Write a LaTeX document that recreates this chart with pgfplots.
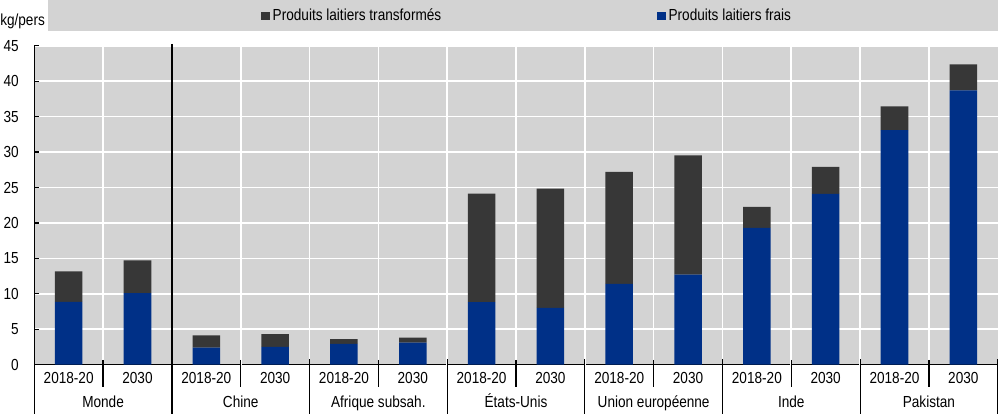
\documentclass[border=0pt]{standalone}
\usepackage{pgfplots}
\pgfplotsset{compat=1.18}
\usepackage{pgfplotstable}
\usepackage{fontspec}
\setmainfont{Liberation Sans}[FakeStretch=0.85]
\definecolor{oblue}{RGB}{0,48,135}
\definecolor{ogray}{RGB}{55,55,55}
\definecolor{obg}{RGB}{211,211,211}

\pgfplotstableread{
x fresh proc
0 8.85 4.30
1 10.1 4.60
2 2.40 1.70
3 2.50 1.80
4 2.90 0.70
5 3.10 0.70
6 8.80 15.35
7 8.00 16.85
8 11.4 15.80
9 12.7 16.85
10 19.3 2.95
11 24.1 3.80
12 33.1 3.35
13 38.7 3.70
}\datatable

\begin{document}
\fontsize{12pt}{14pt}\selectfont
\begin{tikzpicture}
\fill[obg] (10.3pt,250.1pt) rectangle (722.6pt,273.4pt);
\begin{axis}[
  scale only axis, width=722.6pt, height=239pt,
  at={(0pt,0pt)}, anchor=south west,
  xmin=-0.5, xmax=13.5, ymin=0, ymax=45,
  ybar stacked, bar width=0.4,
  axis background/.style={fill=obg},
  axis x line=bottom, axis y line=left,
  axis line style={-, black, line width=0.9pt},
  xtick={0,...,13},
  xticklabels={2018-20,2030,2018-20,2030,2018-20,2030,2018-20,2030,2018-20,2030,2018-20,2030,2018-20,2030},
  xtick style={draw=none},
  xticklabel style={anchor=base, inner sep=0pt, yshift=-14.1pt},
  ytick={0,5,...,45},
  ytick style={black, line width=0.9pt},
  tick align=inside, major tick length=3.5pt,
  yticklabel style={anchor=east, inner sep=0pt, xshift=-11.5pt},
  ymajorgrids, major grid style={white, line width=1.2pt},
  extra x ticks={0.5,2.5,3.5,4.5,5.5,6.5,7.5,8.5,9.5,10.5,11.5,12.5},
  extra x tick labels={},
  extra x tick style={grid=major, major grid style={white, line width=1.2pt}, xtick style={draw=none}},
  clip=false,
  /pgf/number format/assume math mode=true,
  reverse legend,
  legend columns=2,
  legend style={at={(0.512,1.0937)}, anchor=center, draw=none, fill=none,
    font=\fontsize{12pt}{14pt}\selectfont,
    /tikz/every even column/.append style={column sep=160pt}},
  legend image code/.code={\fill[#1] (0pt,-3.25pt) rectangle (6.5pt,3.25pt);},
]
\addplot[fill=oblue, draw=none] table[x=x, y=fresh]{\datatable};
\addplot[fill=ogray, draw=none] table[x=x, y=proc]{\datatable};
\legend{Produits laitiers frais, Produits laitiers transformés}

\pgfplotsinvokeforeach{0.5,2.5,4.5,6.5,8.5,10.5,12.5}{
  \draw[line width=0.9pt] ([yshift=3.4pt]axis cs:#1,0) -- ([yshift=-16.9pt]axis cs:#1,0);
}
\pgfplotsinvokeforeach{3.5,5.5,7.5,9.5,11.5,13.5}{
  \draw[line width=0.9pt] ([yshift=4pt]axis cs:#1,0) -- ([yshift=-37pt]axis cs:#1,0);
}
\draw[line width=0.9pt] (axis cs:-0.5,0) -- ([yshift=-37pt]axis cs:-0.5,0);
\draw[line width=0.9pt] ([yshift=1.5pt]axis cs:1.5,45) -- ([yshift=-37pt]axis cs:1.5,0);

\node[anchor=base] at ([yshift=-32.1pt]axis cs:0.5,0) {Monde};
\node[anchor=base] at ([yshift=-32.1pt]axis cs:2.5,0) {Chine};
\node[anchor=base] at ([yshift=-32.1pt]axis cs:4.5,0) {Afrique subsah.};
\node[anchor=base] at ([yshift=-32.1pt]axis cs:6.5,0) {États-Unis};
\node[anchor=base] at ([yshift=-32.1pt]axis cs:8.5,0) {Union européenne};
\node[anchor=base] at ([yshift=-32.1pt]axis cs:10.5,0) {Inde};
\node[anchor=base] at ([yshift=-32.1pt]axis cs:12.5,0) {Pakistan};
\end{axis}
\node[anchor=west, inner sep=0pt] at (-25.7pt,257.6pt) {kg/pers};
\pgfresetboundingbox
\path[use as bounding box] (-25.7pt,-36.4pt) rectangle (724.3pt,273.4pt);
\end{tikzpicture}
\end{document}
